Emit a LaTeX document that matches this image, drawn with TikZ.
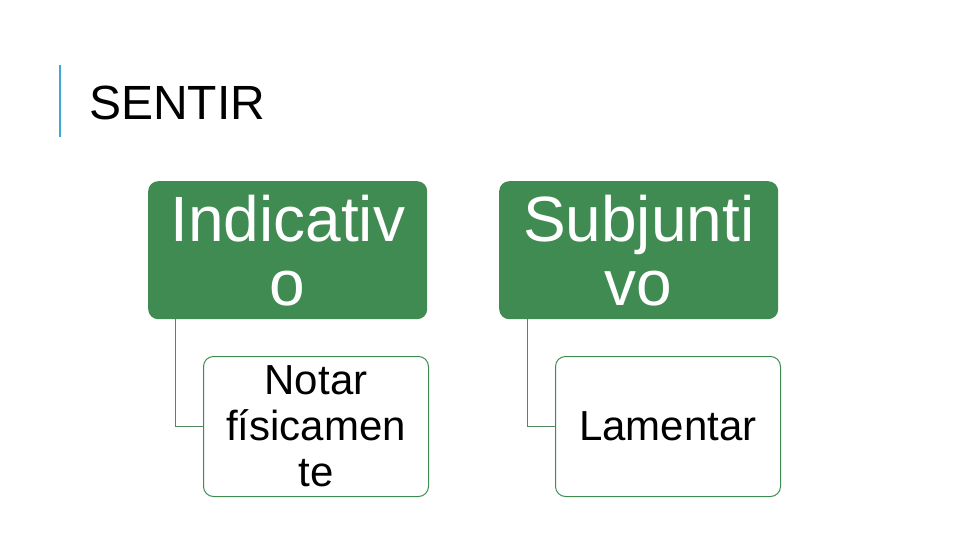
\documentclass[tikz,border=0pt]{standalone}
\usepackage{fontspec}
\usetikzlibrary{calc}
\setmainfont{Liberation Sans}
\definecolor{gr}{HTML}{3F8B52}
\definecolor{bl}{HTML}{3FA9D6}
\begin{document}
\begin{tikzpicture}[x=1pt,y=-1pt,
 head/.style={fill=gr,rounded corners=10pt,inner sep=0pt,text=white,font=\fontsize{64}{64}\selectfont,align=center,anchor=north west,minimum width=279pt,minimum height=138pt},
 sub/.style={draw=gr,line width=1pt,fill=white,rounded corners=10pt,inner sep=0pt,font=\fontsize{42}{46}\selectfont,align=center,anchor=north west,minimum width=225pt,minimum height=140pt},
 conn/.style={draw=gr!70!gray,line width=1pt}]
\useasboundingbox (0,0) rectangle (960,540);
\draw[bl,line width=2.5pt] (60,65) -- (60,137);
\node[anchor=base west,inner sep=0pt,font=\fontsize{48}{48}\selectfont] (t) at (89,120) {SENTIR};
\node[head] (h1) at (148,181) {Indicativ\\o};
\node[head] (h2) at (499,181) {Subjunti\\vo};
\node[sub] (s1) at (203,356) {Notar\\físicamen\\te};
\node[sub] (s2) at (555,356) {Lamentar};
\coordinate (c1) at ($(h1.south west)+(27,0)$);
\coordinate (c2) at ($(h2.south west)+(28,0)$);
\draw[conn] (c1) |- (s1.west);
\draw[conn] (c2) |- (s2.west);
\end{tikzpicture}
\end{document}
